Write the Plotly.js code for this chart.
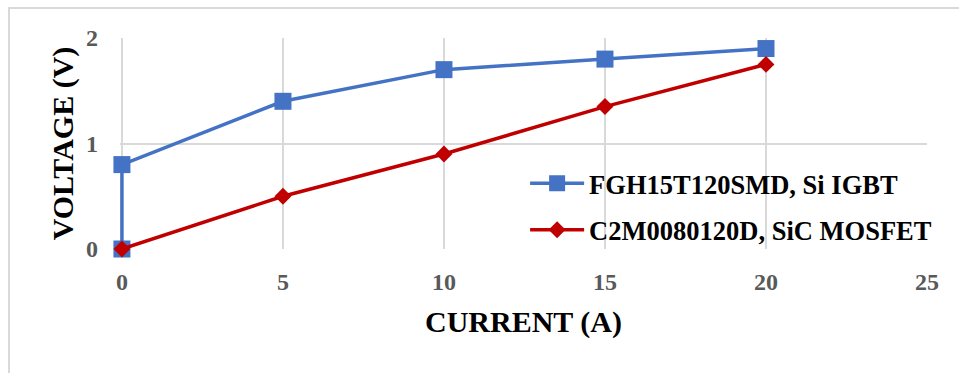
<!DOCTYPE html>
<html>
<head>
<meta charset="utf-8">
<script src="https://cdn.plot.ly/plotly-3.0.1.min.js"></script>
<style>
html,body{margin:0;padding:0;background:#fff;}
#wrap{position:relative;width:959px;height:373px;overflow:hidden;}
#frame{position:absolute;left:8px;top:7px;width:1000px;height:400px;border-left:2px solid #d9d9d9;border-top:2px solid #d9d9d9;}
#chart{position:absolute;left:0;top:0;width:959px;height:373px;}
</style>
</head>
<body>
<div id="wrap"><div id="frame"></div><div id="chart"></div></div>
<script>
const igbtCurrent = [0, 0, 5, 10, 15, 20];
const igbtVoltage = [0, 0.8, 1.4, 1.7, 1.8, 1.9];
const mosfetCurrent = [0, 5, 10, 15, 20];
const mosfetVoltage = [0, 0.5, 0.9, 1.35, 1.75];
const xTicks = [0, 5, 10, 15, 20, 25];
const yTicks = [0, 1, 2];
const seriesNames = ['FGH15T120SMD, Si IGBT', 'C2M0080120D, SiC MOSFET'];

const serif = 'Liberation Serif';
const traces = [
  {x: igbtCurrent, y: igbtVoltage, name: seriesNames[0], mode: 'lines+markers', legend: 'legend',
   line: {color: '#4472C4', width: 3.5}, marker: {symbol: 'square', size: 17, color: '#4472C4'}, cliponaxis: false},
  {x: mosfetCurrent, y: mosfetVoltage, name: seriesNames[1], mode: 'lines+markers', legend: 'legend2',
   line: {color: '#C00000', width: 3.5}, marker: {symbol: 'diamond', size: 13, color: '#C00000'}, cliponaxis: false}
];
function lf(){ return {family: serif, size: 26.5, color: '#000', weight: 'bold'}; }
const layout = {
  width: 959, height: 373,
  margin: {l: 120, r: 32, t: 38, b: 124},
  paper_bgcolor: 'rgba(0,0,0,0)', plot_bgcolor: 'rgba(0,0,0,0)',
  font: {family: serif},
  showlegend: true,
  xaxis: {range: [-0.06, 25], tickvals: xTicks, ticktext: xTicks.map(String), showgrid: true, gridcolor: '#d9d9d9', gridwidth: 2,
    zeroline: false, showline: false, ticks: '', ticklabelstandoff: 16,
    tickfont: {family: serif, size: 24, color: '#595959', weight: 'bold'},
    title: {text: 'CURRENT (A)', font: {family: serif, size: 30, color: '#000', weight: 'bold'}, standoff: 16}},
  yaxis: {range: [0, 2], tickvals: yTicks, showgrid: true, gridcolor: '#d9d9d9', gridwidth: 2,
    zeroline: false, showline: false, ticks: '', ticklabelstandoff: 21,
    tickfont: {family: serif, size: 24, color: '#595959', weight: 'bold'},
    title: {text: 'VOLTAGE (V)', font: {family: serif, size: 30, color: '#000', weight: 'bold'}, standoff: 3}},
  legend: {x: 0.502, y: 0.31, xanchor: 'left', yanchor: 'middle', xref: 'paper', yref: 'paper', bgcolor: 'rgba(0,0,0,0)',
    font: lf(), itemwidth: 54},
  legend2: {x: 0.502, y: 0.09, xanchor: 'left', yanchor: 'middle', xref: 'paper', yref: 'paper', bgcolor: 'rgba(0,0,0,0)',
    font: lf(), itemwidth: 54}
};
Plotly.newPlot('chart', traces, layout, {displayModeBar: false, staticPlot: true});
</script>
</body>
</html>
